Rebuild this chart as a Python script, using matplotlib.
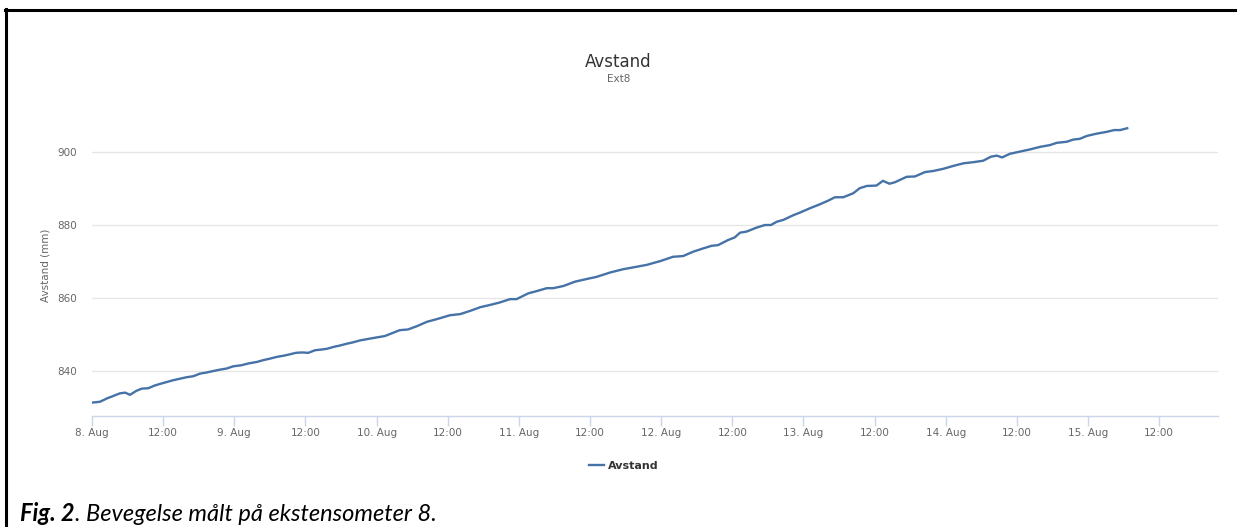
import datetime as dt
import matplotlib
matplotlib.use("Agg")
import matplotlib.pyplot as plt
import matplotlib.dates as mdates
from matplotlib.lines import Line2D

# readings: hours after 8 Aug 00:00 and distance in mm
hours = [0.2, 1.35, 2.5, 3.6, 4.7, 5.6, 6.4, 7.5, 8.4, 9.5, 10.5, 11.5, 12.6, 13.7,
         14.8, 15.9, 17.1, 18.2, 19.3, 20.4, 21.6, 22.7, 23.8, 25.2, 26.4, 27.8, 28.9,
         30.0, 31.2, 32.3, 33.4, 34.4, 35.4, 36.5, 37.6, 38.7, 39.6, 40.7, 41.8, 43.0,
         44.1, 45.2, 46.9, 49.4, 50.8, 51.9, 53.3, 54.8, 56.5, 58.1, 60.4, 62.1, 63.8,
         65.5, 67.1, 68.8, 70.5, 71.6, 73.6, 75.0, 76.7, 77.8, 79.5, 81.5, 83.4, 85.1,
         87.4, 89.6, 91.3, 93.6, 95.8, 98.0, 99.7, 101.4, 103.1, 104.5, 105.6, 107.3,
         108.4, 109.3, 110.4, 112.1, 113.5, 114.5, 115.5, 116.6, 118.3, 119.4, 121.1,
         122.8, 124.2, 125.3, 126.7, 128.4, 129.5, 130.7, 132.3, 133.4, 134.5, 135.4,
         137.4, 138.8, 140.5, 141.9, 143.6, 145.3, 147.0, 148.6, 150.3, 151.6, 152.6,
         153.5, 154.8, 156.5, 158.2, 159.9, 161.6, 162.7, 164.4, 165.5, 166.6, 167.8,
         169.4, 171.1, 172.4, 173.4, 174.6]
avstand = [831.4, 831.6, 832.5, 833.2, 833.9, 834.1, 833.5, 834.6, 835.2, 835.3, 836.0,
           836.5, 837.0, 837.5, 837.9, 838.3, 838.6, 839.3, 839.6, 840.0, 840.4, 840.7,
           841.3, 841.6, 842.1, 842.5, 843.0, 843.4, 843.9, 844.2, 844.6, 845.0, 845.1,
           845.0, 845.7, 845.9, 846.1, 846.6, 847.0, 847.5, 847.9, 848.4, 848.9, 849.6,
           850.5, 851.2, 851.4, 852.3, 853.5, 854.2, 855.3, 855.6, 856.5, 857.5, 858.1,
           858.8, 859.7, 859.7, 861.3, 861.9, 862.7, 862.7, 863.3, 864.5, 865.2, 865.8,
           867.0, 867.9, 868.4, 869.1, 870.1, 871.3, 871.5, 872.7, 873.6, 874.3, 874.5,
           875.9, 876.6, 877.9, 878.2, 879.3, 880.0, 880.0, 880.9, 881.4, 882.7, 883.4,
           884.6, 885.7, 886.7, 887.6, 887.6, 888.7, 890.1, 890.7, 890.8, 892.1, 891.3,
           891.7, 893.2, 893.3, 894.5, 894.8, 895.4, 896.2, 896.9, 897.2, 897.6, 898.7,
           899.0, 898.5, 899.5, 900.1, 900.7, 901.4, 901.9, 902.5, 902.8, 903.4, 903.6,
           904.4, 905.0, 905.5, 906.0, 906.0, 906.5]

start = dt.datetime(2016, 8, 8)
times = [start + dt.timedelta(hours=h) for h in hours]

W, H = 1237, 527
fig = plt.figure(figsize=(W / 100, H / 100), dpi=100)
fig.patch.set_facecolor("white")

ax = fig.add_axes([92 / W, (H - 416) / H, 1126 / W, 302 / H])
ax.plot(times, avstand, color="#4572a7", lw=1.7, label="Avstand", solid_joinstyle="round")

ax.set_xlim(start, start + dt.timedelta(days=7.913))
ax.set_ylim(827.7, 910.4)
ax.set_yticks([840, 860, 880, 900])
ax.grid(axis="y", color="#e6e6e6", lw=1)
ax.set_axisbelow(True)

for s in ["top", "right", "left"]:
    ax.spines[s].set_visible(False)
ax.spines["bottom"].set_color("#ccd6eb")
ax.spines["bottom"].set_linewidth(1)

ax.xaxis.set_major_locator(mdates.HourLocator(byhour=[0, 12]))


def fmt(x, pos=None):
    d = mdates.num2date(x)
    if d.hour == 0:
        return f"{d.day}. {d.strftime('%b')}"
    return d.strftime("%H:%M")


ax.xaxis.set_major_formatter(plt.FuncFormatter(fmt))
ax.tick_params(axis="x", length=7, color="#ccd6eb", width=1, pad=2,
               labelsize=7.5, labelcolor="#666666")
ax.tick_params(axis="y", length=0, pad=11, labelsize=7.5, labelcolor="#666666")

ax.set_ylabel("Avstand (mm)", color="#666666", fontsize=7.5)
ax.yaxis.set_label_coords(-41 / 1126, 0.5)

fig.text(0.5, (H - 62) / H, "Avstand", ha="center", va="center",
         fontsize=12, color="#333333")
fig.text(0.5, (H - 79) / H, "Ext8", ha="center", va="center",
         fontsize=7.5, color="#666666")

fig.legend(loc="center", bbox_to_anchor=(624 / W, (H - 466) / H), frameon=False,
           handlelength=1.3, handletextpad=0.4,
           prop={"weight": "bold", "size": 8}, labelcolor="#333333")

# page border of the table cell
fig.add_artist(Line2D([6 / W, 6 / W], [0, 1 - 9 / H], color="black", lw=2.2,
                      transform=fig.transFigure))
fig.add_artist(Line2D([5 / W, 1], [1 - 9.5 / H, 1 - 9.5 / H], color="black", lw=2.2,
                      transform=fig.transFigure))

# caption
cap_y = (H - 521) / H
t1 = fig.text(20 / W, cap_y, "Fig. 2", fontsize=17, family="Lato",
              weight="bold", style="italic", va="baseline")
fig.canvas.draw()
bb = t1.get_window_extent()
fig.text(bb.x1 / W, cap_y, ". Bevegelse målt på ekstensometer 8.", fontsize=17,
         family="Lato", style="italic", va="baseline")

fig.savefig("out.png", dpi=100, facecolor="white")
